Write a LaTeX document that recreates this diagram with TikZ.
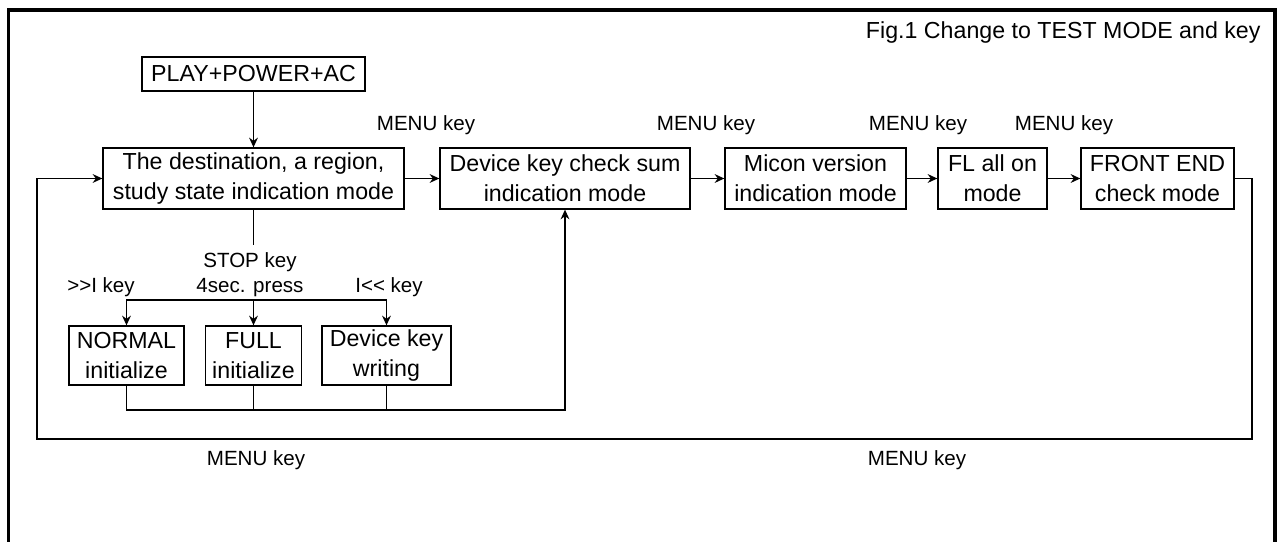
\documentclass[tikz,border=0pt]{standalone}
\usepackage{fontspec}
\setmainfont{Liberation Sans}
\usetikzlibrary{arrows.meta}
\begin{document}
\begin{tikzpicture}[x=0.2mm,y=-0.2mm,line width=0.75pt,>={Stealth[length=5.5pt,width=5pt]},
  modebox/.style={draw,align=center,inner sep=0pt,minimum height=12.2mm,font=\fontsize{13.2}{17}\selectfont},
  keylabel/.style={font=\fontsize{11.7}{14.2}\selectfont,align=center}]
\useasboundingbox (0,0) rectangle (1279,542);
\draw[line width=1.9pt] (8.5,542) -- (8.5,10) -- (1275,10) -- (1275,542);
\node[anchor=east,font=\fontsize{13.2}{17}\selectfont] (title) at (1267,33) {Fig.1 Change to TEST MODE and key};
\node[modebox,minimum width=44.6mm,minimum height=6.8mm] (play) at (253.5,74) {PLAY+POWER+AC};
\node[modebox,minimum width=60.2mm] (dest) at (253.5,178.5) {The destination, a region,\\study state indication mode};
\node[modebox,minimum width=50mm] (dks) at (565,178.5) {Device key check sum\\indication mode};
\node[modebox,minimum width=36.2mm] (micon) at (815.5,178.5) {Micon version\\indication mode};
\node[modebox,minimum width=21.8mm] (flon) at (992.5,178.5) {FL all on\\mode};
\node[modebox,minimum width=30.6mm] (fe) at (1157.5,178.5) {FRONT END\\check mode};
\node[modebox,minimum width=23mm,minimum height=11.8mm] (normal) at (126.5,355.5) {NORMAL\\initialize};
\node[modebox,minimum width=19.2mm,minimum height=11.8mm] (full) at (253.5,355.5) {FULL\\initialize};
\node[modebox,minimum width=25.8mm,minimum height=11.8mm] (dkw) at (386.5,355.5) {Device key\\writing};
\node[keylabel] (menuA) at (426,125) {MENU key};
\node[keylabel] (menuB) at (706,125) {MENU key};
\node[keylabel] (menuC) at (918,125) {MENU key};
\node[keylabel] (menuD) at (1064,125) {MENU key};
\node[keylabel] (menuE) at (256,460) {MENU key};
\node[keylabel] (menuF) at (917,460) {MENU key};
\node[keylabel] (stop) at (250,274.5) {STOP key\\4sec. press};
\node[keylabel] (fwd) at (101,287) {>{}>I key};
\node[keylabel] (rew) at (389,287) {I<{}< key};
\coordinate (stemend) at (253.5,245);
\coordinate (br) at (253.5,300);
\coordinate (jn) at (565,410);
\coordinate (loopR) at (1252,439);
\coordinate (loopL) at (37,439);
\draw[->] (play) -- (dest);
\draw[->] (dest) -- (dks);
\draw[->] (dks) -- (micon);
\draw[->] (micon) -- (flon);
\draw[->] (flon) -- (fe);
\draw[->] (fe.east) -| (loopR) -- (loopL) |- (dest.west);
\draw (dest.south) -- (stemend);
\draw[->] (br) -- (full.north);
\draw[->] (br) -| (normal.north);
\draw[->] (br) -| (dkw.north);
\draw[->] (normal.south) |- (jn) -- (dks.south);
\draw (full.south) -- (full.south |- jn);
\draw (dkw.south) -- (dkw.south |- jn);
\end{tikzpicture}
\end{document}
